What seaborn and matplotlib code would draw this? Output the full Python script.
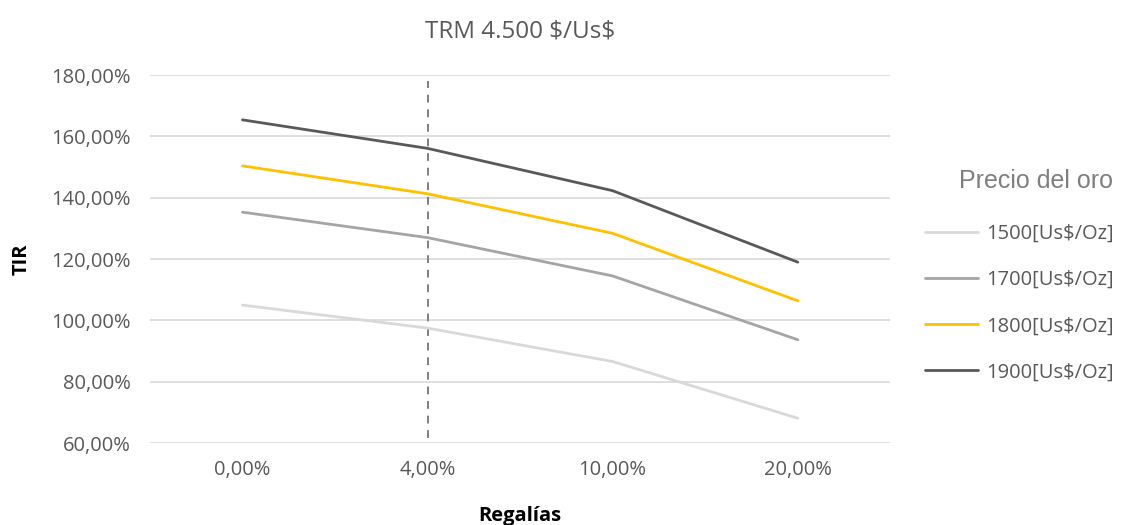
import matplotlib
matplotlib.use("Agg")
import matplotlib.pyplot as plt
from matplotlib.ticker import FuncFormatter
import seaborn as sns
import pandas as pd

# Royalty scenarios (x categories) and IRR per gold price
regalias = ["0,00%", "4,00%", "10,00%", "20,00%"]
tir_1500 = [105.0, 97.5, 86.6, 68.1]
tir_1700 = [135.3, 127.0, 114.5, 93.7]
tir_1800 = [150.4, 141.3, 128.4, 106.4]
tir_1900 = [165.4, 156.1, 142.3, 119.0]
series_labels = ["1500[Us\\$/Oz]", "1700[Us\\$/Oz]", "1800[Us\\$/Oz]", "1900[Us\\$/Oz]"]
series_colors = ["#d9d9d9", "#a5a5a5", "#ffc000", "#595959"]
y_ticks = [60, 80, 100, 120, 140, 160, 180]

rows = []
for label, vals in zip(series_labels, [tir_1500, tir_1700, tir_1800, tir_1900]):
    for i, (cat, v) in enumerate(zip(regalias, vals)):
        rows.append({"pos": i, "Regalías": cat, "TIR": v, "Precio": label})
df = pd.DataFrame(rows)

sns.set_theme(style="white")
plt.rcParams["font.family"] = ["Open Sans", "DejaVu Sans"]

fig = plt.figure(figsize=(11.27, 5.25), dpi=100)
ax = fig.add_axes([0.133, 0.156, 0.657, 0.701])

sns.lineplot(data=df, x="pos", y="TIR", hue="Precio", hue_order=series_labels,
             palette=dict(zip(series_labels, series_colors)), linewidth=2.0,
             ax=ax, legend=False, sort=False)

# Reference line at the 4% royalty scenario
ax.axvline(regalias.index("4,00%"), ymin=0.015, ymax=0.985, color="#7f7f7f",
           linestyle=(0, (4, 3.5)), linewidth=1.4, zorder=1)

ax.set_xlim(-0.5, len(regalias) - 0.5)
ax.set_ylim(y_ticks[0], y_ticks[-1])
ax.set_xticks(range(len(regalias)))
ax.set_xticklabels(regalias)
ax.set_yticks(y_ticks)
ax.yaxis.set_major_formatter(FuncFormatter(lambda v, p: f"{v:.2f}".replace(".", ",") + "%"))
ax.grid(axis="y", color="#d9d9d9", linewidth=1.2)
ax.set_axisbelow(True)
for s in ax.spines.values():
    s.set_visible(False)
ax.tick_params(axis="x", length=0, labelsize=14.5, colors="#595959", pad=12)
ax.tick_params(axis="y", length=0, labelsize=14.5, colors="#595959", pad=14)

ax.set_xlabel("Regalías", fontsize=14.5, fontweight="bold", color="black", labelpad=19)
ax.set_ylabel("TIR", fontsize=14.5, fontweight="bold", color="black", labelpad=14)
ax.set_title("TRM 4.500 \\$/Us\\$", fontsize=17.5, color="#595959", pad=27)

handles = [plt.Line2D([], [], color=c, linewidth=2.0) for c in series_colors]
leg = fig.legend(handles, series_labels, loc="upper right", bbox_to_anchor=(1.004, 0.712),
                 frameon=False, fontsize=14.5, handlelength=2.6, handletextpad=0.4,
                 labelspacing=1.3, title="Precio del oro", alignment="right")
leg.get_title().set_fontsize(18)
leg.get_title().set_color("#7f7f7f")
leg.get_title().set_family(["Liberation Sans", "DejaVu Sans"])
for t in leg.get_texts():
    t.set_color("#595959")
leg._legend_box.sep = 22

fig.savefig("out.png", dpi=100, facecolor="white")
